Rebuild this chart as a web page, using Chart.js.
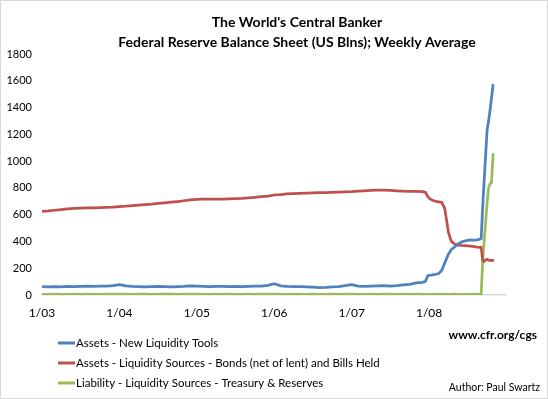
<!DOCTYPE html>
<html lang="en">
<head>
  <meta charset="UTF-8" />
  <title>The World's Central Banker</title>
  <script src="https://cdn.jsdelivr.net/npm/chart.js"></script>
  <style>
    body {
      margin: 0;
      background: #fff;
    }
    canvas {
      display: block;
    }
  </style>
</head>
<body>

<canvas id="fedChart" width="548" height="399"></canvas>

<script>
  // Weekly average readings, thinned out (monthly up to late 2007, then denser)
  const dates = [
    '2003-01-01', '2003-02-01', '2003-03-01', '2003-04-01', '2003-05-01', '2003-06-01',
    '2003-07-01', '2003-08-01', '2003-09-01', '2003-10-01', '2003-11-01', '2003-12-01',
    '2004-01-01', '2004-02-01', '2004-03-01', '2004-04-01', '2004-05-01', '2004-06-01',
    '2004-07-01', '2004-08-01', '2004-09-01', '2004-10-01', '2004-11-01', '2004-12-01',
    '2005-01-01', '2005-02-01', '2005-03-01', '2005-04-01', '2005-05-01', '2005-06-01',
    '2005-07-01', '2005-08-01', '2005-09-01', '2005-10-01', '2005-11-01', '2005-12-01',
    '2006-01-01', '2006-02-01', '2006-03-01', '2006-04-01', '2006-05-01', '2006-06-01',
    '2006-07-01', '2006-08-01', '2006-09-01', '2006-10-01', '2006-11-01', '2006-12-01',
    '2007-01-01', '2007-02-01', '2007-03-01', '2007-04-01', '2007-05-01', '2007-06-01',
    '2007-07-01', '2007-08-01', '2007-09-01', '2007-10-01', '2007-11-01', '2007-12-01',
    '2007-12-15', '2007-12-26',
    '2008-01-02', '2008-01-16', '2008-02-01', '2008-02-15', '2008-03-01', '2008-03-15',
    '2008-04-01', '2008-04-15', '2008-05-01', '2008-05-15', '2008-06-01', '2008-06-15',
    '2008-07-01', '2008-07-15', '2008-08-01', '2008-08-15',
    '2008-09-03', '2008-09-10', '2008-09-17', '2008-09-24', '2008-10-01', '2008-10-08',
    '2008-10-15', '2008-10-22', '2008-10-29'
  ];

  const newLiquidityTools = [
    62, 60, 63, 61, 64, 62, 65, 66, 64, 67, 66, 70,
    78, 68, 64, 62, 61, 63, 64, 62, 61, 63, 64, 68,
    66, 64, 63, 65, 64, 62, 64, 63, 64, 66, 67, 72,
    84, 68, 64, 62, 63, 60, 58, 56, 57, 60, 63, 70,
    78, 66, 64, 66, 68, 70, 67, 70, 75, 80, 90, 95,
    102, 145,
    147, 150, 155, 160, 185, 240, 305, 340, 360, 380, 395, 403,
    408, 412, 410, 412,
    420, 650, 850, 1040, 1230, 1300, 1380, 1470, 1568
  ];

  const bondsAndBills = [
    625, 628, 633, 638, 643, 647, 648, 650, 651, 653, 655, 656,
    660, 663, 667, 671, 675, 679, 684, 688, 693, 698, 704, 710,
    715, 716, 716, 716, 717, 718, 719, 721, 725, 730, 734, 738,
    747, 750, 755, 758, 759, 760, 762, 764, 765, 767, 769, 771,
    772, 775, 778, 782, 784, 783, 782, 778, 775, 774, 774, 772,
    766, 735,
    722, 708, 700, 696, 692, 645, 470, 400, 380, 373, 370, 369,
    367, 365, 362, 358,
    356, 260, 250, 262, 266, 262, 257, 260, 258
  ];

  const treasuryAndReserves = [
    5, 5, 6, 5, 5, 6, 5, 6, 5, 5, 6, 6,
    7, 6, 5, 6, 6, 5, 6, 7, 6, 5, 6, 6,
    6, 5, 5, 6, 5, 6, 5, 5, 6, 5, 6, 6,
    6, 5, 5, 6, 5, 5, 6, 5, 5, 6, 5, 6,
    6, 5, 5, 6, 5, 6, 7, 5, 6, 5, 6, 5,
    5, 6,
    5, 5, 6, 5, 5, 6, 5, 5, 6, 5, 5, 6,
    5, 5, 6, 5,
    5, 250, 400, 545, 690, 800, 830, 840, 1050
  ];

  const seriesNames = [
    'Assets - New Liquidity Tools',
    'Assets - Liquidity Sources - Bonds (net of lent) and Bills Held',
    'Liability - Liquidity Sources - Treasury & Reserves'
  ];
  const seriesColors = ['#4f81bd', '#c0504d', '#9bbb59'];

  const titleLines = ["The World's Central Banker", 'Federal Reserve Balance Sheet (US Blns); Weekly Average'];
  const sourceText = 'www.cfr.org/cgs';
  const authorText = 'Author: Paul Swartz';

  const yTicks = [0, 200, 400, 600, 800, 1000, 1200, 1400, 1600, 1800];
  const xTickYears = [2003, 2004, 2005, 2006, 2007, 2008];

  // date string -> decimal year, so the x axis can be linear
  function toYear(s) {
    const [y, m, d] = s.split('-').map(Number);
    const start = Date.UTC(y, 0, 1);
    const end = Date.UTC(y + 1, 0, 1);
    return y + (Date.UTC(y, m - 1, d) - start) / (end - start);
  }

  const xs = dates.map(toYear);
  const toPoints = vals => vals.map((v, i) => ({ x: xs[i], y: v }));

  const FONT = 'Lato, "DejaVu Sans", sans-serif';

  const frameAndText = {
    id: 'frameAndText',
    beforeDraw(chart) {
      const c = chart.ctx;
      c.save();
      c.fillStyle = '#fff';
      c.fillRect(0, 0, chart.width, chart.height);
      c.strokeStyle = '#d9d9d9';
      c.lineWidth = 1;
      c.strokeRect(0.5, 0.5, chart.width - 1, chart.height - 1);
      c.restore();
    },
    afterDraw(chart) {
      const c = chart.ctx;
      c.save();
      c.fillStyle = '#000';
      c.textBaseline = 'middle';

      // title
      c.textAlign = 'center';
      c.font = 'bold 14px ' + FONT;
      c.fillText(titleLines[0], 297, 22);
      c.fillText(titleLines[1], 297, 42);

      // legend, one entry per row
      c.textAlign = 'left';
      c.font = '11.5px ' + FONT;
      chart.data.datasets.forEach((ds, i) => {
        const y = 343 + i * 20;
        c.strokeStyle = ds.borderColor;
        c.lineWidth = 3;
        c.beginPath();
        c.moveTo(58, y);
        c.lineTo(75, y);
        c.stroke();
        c.fillText(ds.label, 76, y);
      });

      // source and author notes
      c.textAlign = 'right';
      c.font = 'bold 12px ' + FONT;
      c.fillText(sourceText, 537, 335);
      c.font = '10.5px ' + FONT;
      c.fillText(authorText, 540, 388);
      c.restore();
    }
  };

  const datasets = [newLiquidityTools, bondsAndBills, treasuryAndReserves].map((vals, i) => ({
    label: seriesNames[i],
    data: toPoints(vals),
    borderColor: seriesColors[i],
    borderWidth: 2.75,
    pointRadius: 0,
    tension: 0,
    borderCapStyle: 'round',
    borderJoinStyle: 'round',
    fill: false
  }));

  new Chart(document.getElementById('fedChart'), {
    type: 'line',
    data: { datasets },
    options: {
      responsive: false,
      animation: false,
      layout: { padding: { left: 6, right: 43, top: 54, bottom: 74 } },
      plugins: {
        legend: { display: false },
        title: { display: false },
        tooltip: { enabled: false }
      },
      scales: {
        x: {
          type: 'linear',
          min: 2003,
          max: 2008.98,
          afterFit(scale) { scale.height = 30; },
          afterBuildTicks(scale) {
            scale.ticks = xTickYears.map(v => ({ value: v }));
          },
          ticks: {
            autoSkip: false,
            maxRotation: 0,
            padding: 11,
            color: '#000',
            font: { family: FONT, size: 12 },
            callback: v => '1/' + String(v).slice(2)
          },
          grid: { display: false, drawTicks: false },
          border: { display: true, color: '#d9d9d9', width: 1.5 }
        },
        y: {
          min: 0,
          max: 1800,
          afterFit(scale) { scale.width = 36; },
          afterBuildTicks(scale) {
            scale.ticks = yTicks.map(v => ({ value: v }));
          },
          ticks: {
            padding: 10,
            color: '#000',
            font: { family: FONT, size: 11 },
            callback: v => String(v)
          },
          grid: { display: false, drawTicks: false },
          border: { display: false }
        }
      }
    },
    plugins: [frameAndText]
  });
</script>

</body>
</html>
